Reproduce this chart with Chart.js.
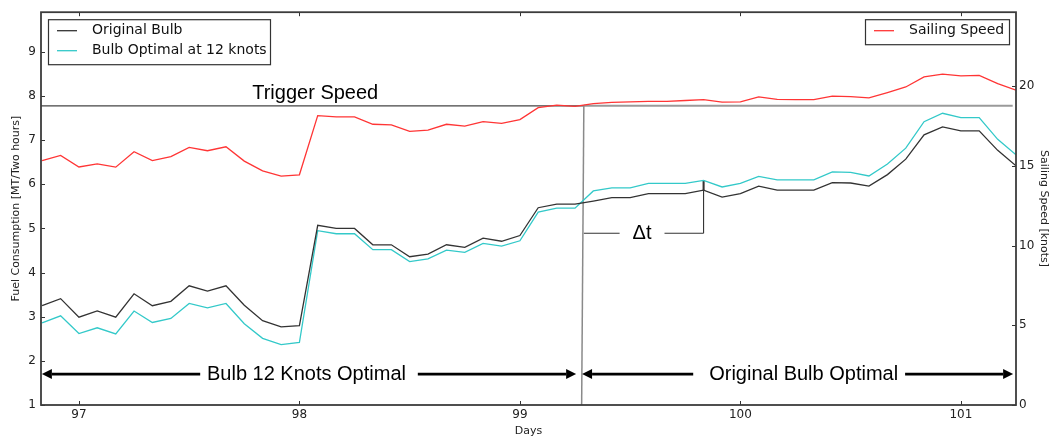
<!DOCTYPE html>
<html>
<head>
<meta charset="utf-8">
<script src="https://cdn.jsdelivr.net/npm/chart.js@4/dist/chart.umd.min.js"></script>
<style>
  html, body { margin: 0; padding: 0; background: #fff; }
  canvas { display: block; }
</style>
</head>
<body>
<canvas id="chart" width="1050" height="440"></canvas>
<script>
// Two-hourly samples (fractional day of voyage)
const days = [
  96.833, 96.917, 97.000, 97.083, 97.167, 97.250, 97.333, 97.417, 97.500, 97.583,
  97.667, 97.750, 97.833, 97.917, 98.000, 98.083, 98.167, 98.250, 98.333, 98.417,
  98.500, 98.583, 98.667, 98.750, 98.833, 98.917, 99.000, 99.083, 99.167, 99.250,
  99.333, 99.417, 99.500, 99.583, 99.667, 99.750, 99.833, 99.917, 100.000, 100.083,
  100.167, 100.250, 100.333, 100.417, 100.500, 100.583, 100.667, 100.750, 100.833, 100.917,
  101.000, 101.083, 101.167, 101.250
];

// Fuel consumption [MT / two hours]
const originalBulb = [
  3.25, 3.41, 2.99, 3.13, 2.99, 3.52, 3.25, 3.35, 3.70, 3.58,
  3.70, 3.26, 2.91, 2.77, 2.80, 5.07, 5.00, 5.00, 4.63, 4.63,
  4.36, 4.42, 4.63, 4.57, 4.78, 4.71, 4.84, 5.47, 5.55, 5.55,
  5.62, 5.70, 5.70, 5.79, 5.79, 5.79, 5.87, 5.71, 5.79, 5.96,
  5.87, 5.87, 5.87, 6.04, 6.03, 5.96, 6.22, 6.57, 7.12, 7.30,
  7.21, 7.21, 6.77, 6.42
];
const bulbOptimal12 = [
  2.86, 3.02, 2.62, 2.75, 2.61, 3.13, 2.87, 2.96, 3.30, 3.20,
  3.30, 2.84, 2.51, 2.37, 2.42, 4.95, 4.88, 4.88, 4.52, 4.52,
  4.25, 4.31, 4.51, 4.46, 4.66, 4.60, 4.72, 5.37, 5.46, 5.46,
  5.85, 5.92, 5.92, 6.02, 6.02, 6.02, 6.09, 5.94, 6.02, 6.18,
  6.10, 6.10, 6.10, 6.28, 6.27, 6.19, 6.46, 6.82, 7.42, 7.61,
  7.51, 7.51, 7.02, 6.67
];

// Sailing speed [knots]
const sailingSpeed = [
  15.33, 15.66, 14.93, 15.12, 14.92, 15.89, 15.33, 15.58, 16.16, 15.95,
  16.20, 15.30, 14.69, 14.36, 14.44, 18.15, 18.07, 18.07, 17.61, 17.57,
  17.16, 17.24, 17.61, 17.50, 17.78, 17.67, 17.90, 18.65, 18.81, 18.73,
  18.90, 18.98, 19.02, 19.04, 19.04, 19.10, 19.15, 19.00, 19.02, 19.33,
  19.17, 19.15, 19.15, 19.37, 19.35, 19.27, 19.60, 19.95, 20.58, 20.76,
  20.64, 20.68, 20.16, 19.75
];

// Axis ticks
const dayTicks = [97, 98, 99, 100, 101];
const fuelTicks = [1, 2, 3, 4, 5, 6, 7, 8, 9];
const speedTicks = [0, 5, 10, 15, 20];

// Annotation values
const triggerSpeed = 18.77;          // knots
const switchDayTop = 99.29;          // where speed reaches the trigger
const switchDayBottom = 99.28;
const triggerEndDay = 101.235;
const deltaTDay = 99.833;            // sample index 36
const deltaTIndex = 36;
const deltaTLevel = 4.89;            // fuel units
const deltaTLabelDay = 99.554;
const regionLevel = 1.70;            // fuel units
const leftRegion = { label: 'Bulb 12 Knots Optimal', center: 98.032, tailA: 97.55, tipA: 96.832, tailB: 98.537, tipB: 99.255 };
const rightRegion = { label: 'Original Bulb Optimal', center: 100.287, tailA: 99.786, tipA: 99.282, tailB: 100.747, tipB: 101.237 };

const BLACK = '#333333';
const CYAN = '#33c9c9';
const RED = '#ff3535';
const SANS = '"DejaVu Sans", sans-serif';
const ANNOT = '"Liberation Sans", Arial, sans-serif';

function seg(ctx, x1, y1, x2, y2) {
  ctx.beginPath();
  ctx.moveTo(x1, y1);
  ctx.lineTo(x2, y2);
  ctx.stroke();
}

function arrow(ctx, xTail, xTip, yy) {
  const dir = xTip > xTail ? 1 : -1;
  const head = 10, half = 5;
  ctx.lineWidth = 2.6;
  ctx.strokeStyle = '#000';
  seg(ctx, xTail, yy, xTip - dir * head, yy);
  ctx.fillStyle = '#000';
  ctx.beginPath();
  ctx.moveTo(xTip, yy);
  ctx.lineTo(xTip - dir * head, yy - half);
  ctx.lineTo(xTip - dir * head, yy + half);
  ctx.closePath();
  ctx.fill();
}

const annotations = {
  id: 'annotations',
  beforeDatasetsDraw(chart) {
    const { ctx, chartArea: a, scales } = chart;
    const x = scales.x, yf = scales.y, ys = scales.ySpeed;
    ctx.save();
    ctx.lineCap = 'butt';

    // trigger speed level
    const ty = ys.getPixelForValue(triggerSpeed);
    const sxTop = x.getPixelForValue(switchDayTop);
    const sxBot = x.getPixelForValue(switchDayBottom);
    ctx.strokeStyle = '#444';
    ctx.lineWidth = 1.2;
    seg(ctx, a.left, ty, sxTop, ty);
    ctx.strokeStyle = '#9a9a9a';
    ctx.lineWidth = 2;
    seg(ctx, sxTop, ty, x.getPixelForValue(triggerEndDay), ty);
    ctx.strokeStyle = '#8a8a8a';
    ctx.lineWidth = 1.5;
    seg(ctx, sxTop, ty, sxBot, a.bottom);

    ctx.fillStyle = '#000';
    ctx.font = '20px ' + ANNOT;
    ctx.textAlign = 'left';
    ctx.textBaseline = 'alphabetic';
    ctx.fillText('Trigger Speed', x.getPixelForValue(97.786), ty - 7);

    // delta t bracket
    const by = yf.getPixelForValue(deltaTLevel);
    const dx = x.getPixelForValue(deltaTDay);
    const lx = x.getPixelForValue(deltaTLabelDay);
    ctx.font = '20px ' + ANNOT;
    const w = ctx.measureText('\u0394t').width;
    ctx.strokeStyle = BLACK;
    ctx.lineWidth = 1.1;
    seg(ctx, sxTop, by, lx - w / 2 - 13, by);
    seg(ctx, lx + w / 2 + 13, by, dx, by);
    seg(ctx, dx, by, dx, yf.getPixelForValue(bulbOptimal12[deltaTIndex]));
    ctx.lineWidth = 2;
    seg(ctx, dx, yf.getPixelForValue(originalBulb[deltaTIndex]), dx, yf.getPixelForValue(bulbOptimal12[deltaTIndex]));
    ctx.fillStyle = '#000';
    ctx.textAlign = 'center';
    ctx.textBaseline = 'middle';
    ctx.fillText('\u0394t', lx, by);

    // operating regions
    const ry = yf.getPixelForValue(regionLevel);
    [leftRegion, rightRegion].forEach(r => {
      arrow(ctx, x.getPixelForValue(r.tailA), x.getPixelForValue(r.tipA), ry);
      arrow(ctx, x.getPixelForValue(r.tailB), x.getPixelForValue(r.tipB), ry);
      ctx.fillStyle = '#000';
      ctx.font = '20px ' + ANNOT;
      ctx.textAlign = 'center';
      ctx.textBaseline = 'middle';
      ctx.fillText(r.label, x.getPixelForValue(r.center), ry);
    });
    ctx.restore();
  },
  afterDraw(chart) {
    const { ctx, chartArea: a, scales } = chart;
    const x = scales.x, yf = scales.y, ys = scales.ySpeed;
    ctx.save();

    // inward tick marks
    ctx.strokeStyle = '#333';
    ctx.lineWidth = 1;
    const tl = 4;
    dayTicks.forEach(v => {
      const px = Math.round(x.getPixelForValue(v)) + 0.5;
      seg(ctx, px, a.bottom, px, a.bottom - tl);
      seg(ctx, px, a.top, px, a.top + tl);
    });
    fuelTicks.forEach(v => {
      const py = Math.round(yf.getPixelForValue(v)) + 0.5;
      seg(ctx, a.left, py, a.left + tl, py);
    });
    speedTicks.forEach(v => {
      const py = Math.round(ys.getPixelForValue(v)) + 0.5;
      seg(ctx, a.right, py, a.right - tl, py);
    });

    // frame
    ctx.strokeStyle = '#3c3c3c';
    ctx.lineWidth = 1.8;
    ctx.strokeRect(a.left, a.top, a.right - a.left, a.bottom - a.top);

    // legends
    ctx.font = '14px ' + SANS;
    ctx.textBaseline = 'middle';
    ctx.textAlign = 'left';
    const drawLegend = (bx, by, bw, bh, items) => {
      ctx.fillStyle = '#fff';
      ctx.fillRect(bx, by, bw, bh);
      ctx.strokeStyle = '#333';
      ctx.lineWidth = 1.2;
      ctx.strokeRect(bx + 0.5, by + 0.5, bw, bh);
      items.forEach((it, i) => {
        const iy = by + 11.5 + i * 20;
        ctx.strokeStyle = it.color;
        ctx.lineWidth = 1.3;
        seg(ctx, bx + 9, iy, bx + 29, iy);
        ctx.fillStyle = '#111';
        ctx.fillText(it.label, bx + 44, iy);
      });
    };
    drawLegend(a.left + 7, a.top + 7, 222, 45, [
      { label: 'Original Bulb', color: BLACK },
      { label: 'Bulb Optimal at 12 knots', color: CYAN }
    ]);
    drawLegend(a.right - 151, a.top + 7, 144, 25, [
      { label: 'Sailing Speed', color: RED }
    ]);
    ctx.restore();
  }
};

const tickFont = { family: SANS, size: 12 };
const titleFont = { family: SANS, size: 11 };

new Chart(document.getElementById('chart'), {
  type: 'line',
  data: {
    datasets: [
      {
        label: 'Original Bulb',
        data: days.map((d, i) => ({ x: d, y: originalBulb[i] })),
        borderColor: BLACK, borderWidth: 1.3, pointRadius: 0, tension: 0, yAxisID: 'y'
      },
      {
        label: 'Bulb Optimal at 12 knots',
        data: days.map((d, i) => ({ x: d, y: bulbOptimal12[i] })),
        borderColor: CYAN, borderWidth: 1.3, pointRadius: 0, tension: 0, yAxisID: 'y'
      },
      {
        label: 'Sailing Speed',
        data: days.map((d, i) => ({ x: d, y: sailingSpeed[i] })),
        borderColor: RED, borderWidth: 1.3, pointRadius: 0, tension: 0, yAxisID: 'ySpeed'
      }
    ]
  },
  options: {
    responsive: false,
    animation: false,
    events: [],
    layout: { padding: { top: 9, left: 0, right: 0, bottom: 0 } },
    plugins: { legend: { display: false }, tooltip: { enabled: false } },
    scales: {
      x: {
        type: 'linear', min: 96.828, max: 101.25,
        afterBuildTicks: s => { s.ticks = dayTicks.map(v => ({ value: v })); },
        afterFit: s => { s.height = 35; },
        grid: { display: false, drawTicks: false },
        border: { display: false },
        ticks: { font: tickFont, color: '#222', padding: 3, maxRotation: 0, autoSkip: false },
        title: { display: true, text: 'Days', font: titleFont, color: '#222', padding: { top: 0, bottom: 2 } }
      },
      y: {
        type: 'linear', position: 'left', min: 1, max: 9.9,
        afterBuildTicks: s => { s.ticks = fuelTicks.map(v => ({ value: v })); },
        afterFit: s => { s.width = 41; },
        grid: { display: false, drawTicks: false },
        border: { display: false },
        ticks: { font: tickFont, color: '#222', padding: 5, autoSkip: false },
        title: { display: true, text: 'Fuel Consumption [MT/Two hours]', font: titleFont, color: '#222', padding: { top: 10, bottom: 0 } }
      },
      ySpeed: {
        type: 'linear', position: 'right', min: 0, max: 24.64,
        afterBuildTicks: s => { s.ticks = speedTicks.map(v => ({ value: v })); },
        afterFit: s => { s.width = 34; },
        grid: { display: false, drawTicks: false },
        border: { display: false },
        ticks: { font: tickFont, color: '#222', padding: 3, autoSkip: false },
        title: { display: true, text: 'Sailing Speed [knots]', font: titleFont, color: '#222', padding: { top: 0, bottom: 0 } }
      }
    }
  },
  plugins: [annotations]
});
</script>
</body>
</html>
